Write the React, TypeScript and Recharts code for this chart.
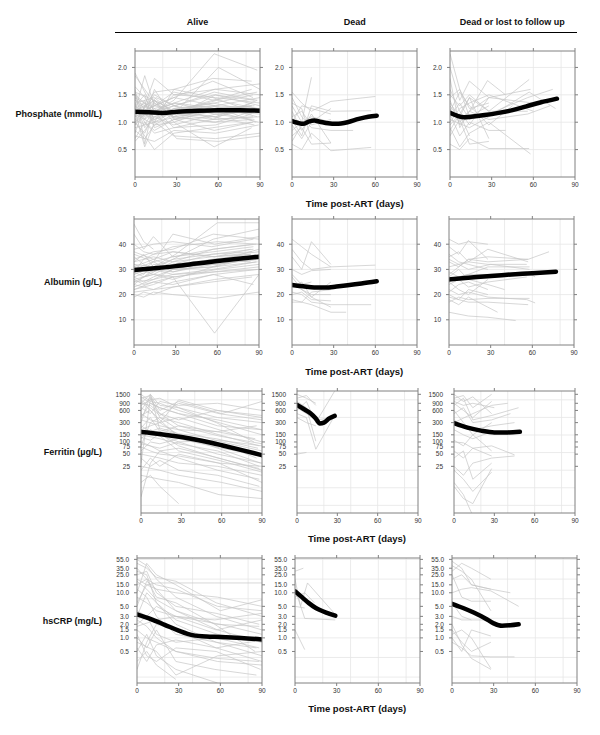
import { CartesianGrid, Line, LineChart, XAxis, YAxis } from 'recharts'

// each patient = flat list of day, value pairs
const phosAlive = [
  [0, 1.9, 14, 1.2, 28, 1.3, 57, 1.5, 86, 1.4],
  [0, 1.85, 7, 1.6, 14, 1.35, 28, 1.1, 56, 1.2, 84, 1.3],
  [0, 1.6, 7, 0.6, 14, 1.4, 28, 1.2, 57, 1.3, 88, 1.1],
  [0, 1.2, 7, 0.55, 14, 1.0, 30, 1.1, 58, 1.0, 85, 1.2],
  [0, 0.8, 14, 1.8, 28, 1.5, 58, 1.6, 90, 1.5],
  [0, 1.0, 14, 0.5, 28, 0.8, 56, 0.9, 84, 1.0],
  [0, 1.4, 7, 1.3, 14, 1.2, 28, 1.4, 57, 2.25, 88, 1.95],
  [0, 1.1, 14, 1.3, 30, 1.2, 60, 2.0, 90, 1.6],
  [0, 1.3, 7, 1.5, 14, 1.0, 28, 1.6, 56, 1.8, 84, 1.75],
  [0, 0.9, 14, 1.0, 28, 0.75, 58, 0.7, 90, 0.8],
  [0, 1.05, 7, 1.2, 15, 1.45, 29, 1.3, 57, 1.55, 88, 1.4],
  [0, 1.5, 7, 1.1, 14, 1.6, 28, 1.05, 56, 1.1, 86, 0.95],
  [0, 1.15, 14, 0.95, 28, 1.0, 57, 0.55, 84, 0.9],
  [0, 0.7, 7, 1.0, 14, 0.8, 28, 0.9, 56, 1.05, 85, 1.1],
  [0, 1.25, 7, 1.35, 14, 1.15, 28, 1.5, 58, 1.45, 90, 1.35],
  [0, 1.45, 14, 1.25, 30, 1.35, 58, 1.25, 86, 1.3],
  [0, 1.0, 7, 1.15, 14, 1.05, 28, 1.25, 57, 1.35, 85, 1.5],
  [0, 0.95, 14, 1.35, 28, 1.1, 56, 1.0, 84, 1.05],
  [0, 1.35, 7, 0.9, 14, 1.1, 28, 0.95, 58, 1.15, 88, 1.2],
  [0, 1.2, 7, 1.85, 14, 1.3, 28, 1.45, 58, 1.3, 90, 1.45],
  [0, 1.55, 14, 1.4, 28, 1.2, 56, 1.4, 84, 1.6],
  [0, 1.1, 14, 1.2, 30, 0.7, 60, 0.65, 90, 0.75],
  [0, 1.3, 7, 1.0, 14, 0.85, 28, 1.05, 57, 1.2, 89, 1.0],
  [0, 0.85, 7, 0.7, 14, 0.95, 28, 1.15, 58, 1.1, 86, 1.25],
  [0, 1.0, 14, 1.55, 28, 1.6, 56, 1.45, 84, 1.2],
  [0, 1.4, 7, 1.25, 14, 1.5, 28, 1.3, 57, 1.05, 90, 1.1],
  [0, 1.2, 14, 1.1, 28, 1.25, 56, 1.3, 87, 1.0],
  [0, 1.05, 7, 0.95, 14, 1.25, 28, 0.9, 58, 0.95, 84, 1.15],
  [0, 1.65, 7, 1.45, 14, 1.2, 28, 1.35, 57, 1.6, 90, 1.7],
  [0, 1.15, 14, 1.3, 28, 1.45, 56, 1.75, 85, 1.45],
  [0, 0.75, 14, 0.65, 28, 0.85, 58, 0.8, 89, 0.95],
  [0, 1.25, 7, 1.05, 14, 1.4, 28, 1.0, 56, 1.25, 84, 1.3],
  [0, 1.5, 7, 1.35, 14, 1.05, 30, 1.2, 59, 1.4, 88, 1.25],
  [0, 0.95, 7, 1.3, 14, 1.15, 28, 1.3, 57, 1.15, 86, 1.05],
  [0, 1.35, 14, 1.45, 28, 1.15, 56, 1.05, 84, 1.35],
  [0, 1.1, 7, 1.4, 14, 0.9, 28, 1.05, 58, 1.3, 90, 1.25],
  [0, 1.55, 7, 1.2, 14, 1.3, 28, 1.55, 57, 1.4, 88, 1.55],
  [0, 0.65, 7, 0.85, 14, 1.1, 28, 1.2, 56, 1.35, 86, 1.2],
  [0, 1.45, 7, 1.05, 14, 1.2, 28, 1.1, 58, 1.5, 90, 1.3],
  [0, 1.2, 7, 1.3, 14, 1.4, 29, 1.05, 57, 0.85, 85, 1.0],
  [0, 1.0, 7, 0.8, 14, 1.2, 28, 1.35, 56, 1.2, 90, 1.15],
  [0, 1.3, 14, 1.0, 28, 1.2, 58, 1.1, 88, 1.4],
]
const phosDead = [
  [0, 1.3, 7, 1.0, 14, 1.82],
  [0, 1.55, 7, 1.35, 14, 1.2, 28, 1.38, 60, 1.47],
  [0, 1.05, 7, 0.75, 14, 1.3, 28, 1.2, 57, 1.21],
  [0, 0.6, 7, 0.5, 14, 0.8, 28, 0.48, 57, 0.54],
  [0, 1.45, 7, 1.1, 14, 0.9, 28, 0.85, 44, 0.85],
  [0, 0.95, 7, 0.7, 14, 1.0, 28, 1.25],
  [0, 1.2, 7, 0.85, 14, 1.15, 28, 0.62],
  [0, 0.75, 7, 0.9, 14, 0.6, 28, 0.62],
  [0, 1.1, 7, 1.2, 14, 0.95, 28, 1.05],
  [0, 0.85, 7, 1.0, 14, 1.1, 28, 1.0],
  [0, 1.35, 7, 1.25, 14, 0.7],
  [0, 0.65, 7, 0.95],
  [0, 1.0, 7, 1.3, 14, 1.25, 28, 1.15],
]
const phosLost = [
  [0, 2.25, 7, 1.6, 14, 1.1, 28, 1.3],
  [0, 2.0, 7, 1.4, 14, 1.75, 28, 1.45],
  [0, 1.8, 7, 0.9, 14, 1.2, 27, 1.76, 40, 1.5],
  [0, 1.5, 7, 1.3, 14, 1.5, 28, 1.2, 57, 1.78],
  [0, 1.25, 7, 1.0, 14, 1.2, 28, 1.45, 58, 1.6],
  [0, 1.05, 14, 0.9, 28, 1.1, 57, 1.55, 76, 1.25],
  [0, 1.15, 7, 0.75, 14, 1.0, 28, 0.85, 40, 0.85],
  [0, 0.9, 7, 0.55, 14, 0.8, 28, 1.0, 58, 0.42],
  [0, 0.6, 7, 0.5, 14, 0.7, 28, 0.52, 57, 0.52],
  [0, 1.35, 7, 1.1, 14, 1.45, 28, 1.2, 56, 1.2],
  [0, 1.0, 7, 1.25, 14, 1.35, 28, 1.5, 60, 1.2],
  [0, 1.4, 7, 0.95, 14, 1.15],
  [0, 0.75, 7, 1.05, 14, 0.6, 28, 0.65],
  [0, 1.2, 7, 1.55, 14, 1.3, 28, 0.95, 45, 1.3],
  [0, 1.6, 7, 1.2, 14, 0.95, 28, 1.45, 60, 1.35],
  [0, 1.1, 7, 1.35, 14, 1.05, 28, 1.15, 56, 1.45, 74, 1.6],
  [0, 0.95, 7, 1.15, 14, 0.75],
  [0, 1.3, 7, 1.05, 14, 1.2, 28, 1.05, 56, 1.15, 72, 1.3],
  [0, 0.85, 14, 1.45, 28, 0.7],
  [0, 1.45, 7, 1.6, 14, 1.25, 28, 1.35],
]

const albAlive = [
  [0, 48, 7, 41, 14, 38],
  [0, 44, 7, 38, 14, 43, 28, 35, 57, 38, 88, 40],
  [0, 36, 14, 33, 28, 44, 58, 40, 90, 43],
  [0, 28, 14, 31, 30, 36, 60, 48.5, 90, 48.5],
  [0, 22, 14, 24, 28, 27, 58, 4.7, 90, 28],
  [0, 20, 7, 19, 14, 21, 28, 20, 58, 18.5, 90, 21],
  [0, 25, 14, 26, 28, 28, 57, 30, 88, 33],
  [0, 30, 7, 28, 14, 32, 28, 31, 56, 34, 84, 36],
  [0, 33, 14, 35, 28, 33, 57, 38, 86, 40],
  [0, 27, 7, 25, 14, 27, 28, 30, 58, 33, 90, 38],
  [0, 31, 14, 28, 28, 32, 56, 36, 85, 37],
  [0, 35, 7, 32, 14, 30, 28, 34, 57, 42, 90, 46],
  [0, 24, 14, 22, 28, 25, 58, 28, 89, 30],
  [0, 29, 7, 34, 14, 36, 28, 37, 58, 35, 84, 38],
  [0, 26, 14, 28, 30, 27, 60, 30, 90, 32],
  [0, 38, 14, 40, 28, 41, 56, 39, 86, 42],
  [0, 32, 7, 30, 14, 33, 28, 29, 57, 33, 87, 34],
  [0, 21, 14, 22, 28, 23, 58, 26, 90, 28],
  [0, 34, 14, 37, 28, 38, 57, 44, 90, 42],
  [0, 28, 7, 30, 14, 29, 28, 33, 56, 35, 84, 36],
  [0, 23, 14, 26, 28, 30, 58, 31, 88, 35],
  [0, 30, 14, 33, 28, 35, 57, 37, 86, 39],
  [0, 19, 7, 21, 14, 20, 28, 23, 56, 25, 85, 27],
  [0, 37, 14, 34, 28, 31, 58, 32, 90, 34],
  [0, 27, 14, 30, 28, 28, 57, 29, 90, 31],
  [0, 40, 7, 37, 14, 36, 28, 39, 60, 41, 90, 40],
  [0, 25, 14, 29, 28, 32, 58, 34, 84, 33],
  [0, 33, 7, 36, 14, 31, 28, 30, 56, 31, 88, 36],
  [0, 22, 14, 25, 28, 24, 57, 28, 86, 24],
  [0, 31, 14, 34, 28, 37, 58, 35, 90, 37],
  [0, 29, 7, 27, 14, 30, 28, 29, 57, 32, 88, 34],
  [0, 26, 7, 24, 14, 25, 28, 27, 58, 29, 90, 30],
  [0, 32, 14, 31, 28, 34, 56, 36, 86, 38],
  [0, 24, 7, 27, 14, 28, 28, 26, 57, 31, 89, 33],
]
const albDead = [
  [0, 42, 7, 39, 14, 36, 28, 31, 60, 31.7],
  [0, 35, 7, 30, 14, 41, 28, 32],
  [0, 38, 7, 33, 14, 30, 28, 31],
  [0, 28, 7, 24, 14, 25],
  [0, 27, 7, 22, 14, 19, 28, 25],
  [0, 21, 7, 20, 14, 17, 28, 16, 57, 16],
  [0, 18, 7, 17, 14, 16, 28, 13, 39, 13],
  [0, 24, 14, 20, 28, 20],
  [0, 20, 7, 21, 14, 18, 28, 17.5],
  [0, 17, 7, 17, 14, 21, 28, 22],
  [0, 30, 7, 28, 14, 29.5, 28, 30],
  [0, 23, 7, 25, 14, 19, 28, 15],
]
const albLost = [
  [0, 42, 7, 40, 14, 41, 28, 40],
  [0, 39, 7, 36, 14, 41.5, 28, 34],
  [0, 35, 7, 37, 14, 33, 28, 38, 57, 33],
  [0, 33, 7, 31, 14, 34, 28, 33, 57, 34, 72, 37],
  [0, 31, 14, 33, 28, 32, 56, 32],
  [0, 29, 7, 27, 14, 28, 28, 31, 58, 31],
  [0, 27, 7, 30, 14, 26, 28, 24, 40, 22],
  [0, 25, 7, 22, 14, 20, 28, 26],
  [0, 22, 7, 20, 14, 21, 28, 19, 56, 18, 62, 16.7],
  [0, 20, 7, 18, 14, 22, 28, 20],
  [0, 19, 14, 17, 28, 17, 57, 16],
  [0, 18, 7, 16, 14, 19, 28, 15, 35, 13],
  [0, 13, 14, 11.5, 28, 11, 48, 9.7],
  [0, 24, 7, 26, 14, 23, 28, 25, 56, 27],
  [0, 36, 7, 33, 14, 32, 28, 30],
  [0, 21, 7, 24, 14, 25, 28, 22],
  [0, 28, 14, 34, 28, 35, 57, 34],
  [0, 34, 7, 32, 14, 30, 30, 32, 58, 30],
  [0, 17, 7, 19, 14, 18, 28, 18.5, 58, 18.5],
  [0, 26, 14, 28, 28, 28, 56, 29, 62, 27],
]

const ferAlive = [
  [0, 900, 7, 1500, 14, 800, 28, 700, 57, 400, 90, 300],
  [0, 1200, 7, 1400, 14, 600, 28, 1000, 60, 500, 90, 1000],
  [0, 600, 7, 1300, 14, 400, 28, 300, 58, 150, 88, 80],
  [0, 400, 7, 900, 14, 700, 28, 500, 57, 250, 90, 200],
  [0, 300, 7, 1500, 14, 200, 28, 150, 56, 100, 86, 40],
  [0, 1500, 7, 1000, 14, 900, 28, 600, 58, 300, 90, 150],
  [0, 200, 7, 250, 14, 300, 28, 1100, 57, 600, 90, 400],
  [0, 150, 14, 120, 28, 90, 57, 60, 88, 25],
  [0, 100, 7, 80, 14, 60, 28, 70, 58, 40, 90, 20],
  [0, 80, 7, 300, 14, 400, 28, 200, 60, 100, 90, 60],
  [0, 50, 14, 40, 28, 30, 57, 25, 90, 15],
  [0, 30, 7, 1200, 14, 500, 28, 250, 56, 180, 85, 120],
  [0, 20, 7, 40, 14, 25, 28, 50, 58, 30, 90, 10],
  [0, 10, 7, 15, 14, 8, 28, 3],
  [0, 4.4, 7, 30, 14, 60, 28, 40, 57, 20, 88, 12],
  [0, 700, 7, 500, 14, 1000, 28, 800, 57, 900, 90, 600],
  [0, 250, 7, 180, 14, 220, 28, 160, 56, 120, 87, 70],
  [0, 500, 7, 350, 14, 300, 28, 400, 58, 200, 90, 100],
  [0, 120, 7, 200, 14, 150, 28, 100, 57, 50, 90, 30],
  [0, 60, 7, 100, 14, 90, 28, 120, 60, 70, 90, 45],
  [0, 40, 7, 25, 14, 35, 28, 20, 57, 15, 88, 8],
  [0, 180, 14, 140, 28, 60, 58, 35, 90, 18],
  [0, 900, 7, 800, 14, 500, 28, 350, 56, 600, 90, 450],
  [0, 350, 14, 250, 28, 200, 57, 180, 86, 250],
  [0, 75, 7, 60, 14, 50, 28, 45, 58, 30, 90, 25],
  [0, 1000, 7, 600, 14, 300, 28, 150, 57, 70, 89, 30],
  [0, 25, 14, 20, 28, 15, 60, 10, 90, 6],
  [0, 800, 7, 1100, 14, 1200, 28, 700, 56, 300, 84, 100],
  [0, 220, 7, 400, 14, 180, 28, 250, 58, 140, 90, 90],
  [0, 15, 14, 12, 28, 10, 58, 5, 90, 4],
  [0, 1300, 7, 900, 14, 700, 28, 500, 57, 350, 90, 200],
  [0, 450, 7, 600, 14, 350, 28, 130, 60, 80, 90, 50],
  [0, 90, 14, 70, 28, 100, 58, 110, 90, 80],
  [0, 1100, 7, 700, 14, 450, 28, 900, 58, 500, 90, 350],
  [0, 130, 7, 110, 14, 160, 28, 80, 57, 40, 88, 22],
]
const ferDead = [
  [0, 1200, 7, 1400, 14, 800],
  [0, 600, 7, 1000, 14, 300, 28, 1800],
  [0, 1000, 7, 700, 14, 104],
  [0, 500, 7, 400, 14, 66, 28, 450],
  [0, 700, 7, 500, 14, 350, 28, 400],
  [0, 400, 7, 300, 14, 250],
  [0, 50, 7, 55],
  [0, 1500, 7, 1200, 14, 900],
]
const ferLost = [
  [0, 1500, 7, 1000, 14, 1300, 28, 500],
  [0, 1200, 7, 1400, 14, 700, 28, 1500],
  [0, 900, 7, 600, 14, 400, 28, 1000],
  [0, 800, 7, 1200, 14, 350, 28, 450, 48, 700],
  [0, 500, 7, 700, 14, 300, 28, 350, 42, 500],
  [0, 600, 7, 300, 14, 150, 28, 300],
  [0, 350, 7, 250, 14, 200, 28, 250, 45, 300],
  [0, 200, 7, 150, 14, 120, 28, 180],
  [0, 100, 7, 95, 14, 70, 28, 80, 45, 48],
  [0, 110, 7, 80, 14, 150, 28, 60],
  [0, 60, 7, 40, 14, 70, 28, 45],
  [0, 25, 7, 15, 14, 30, 28, 40, 45, 45],
  [0, 40, 7, 60, 14, 12, 28, 30],
  [0, 10, 7, 5, 14, 1.5],
  [0, 20, 7, 12, 14, 6, 28, 18],
  [0, 8, 7, 4, 14, 3, 28, 22],
  [0, 1000, 7, 800, 14, 900, 30, 700],
  [0, 300, 14, 500, 28, 800, 40, 900],
]

const crpAlive = [
  [0, 55, 7, 40, 14, 20, 28, 8, 57, 3, 90, 1.5],
  [0, 35, 7, 20, 14, 15, 28, 12, 58, 5, 90, 4],
  [0, 25, 7, 30, 14, 10, 28, 5, 57, 3.5, 88, 2],
  [0, 15, 7, 20, 14, 8, 28, 6, 56, 2, 85, 0.5],
  [0, 10, 7, 45, 14, 25, 28, 15, 60, 4, 90, 7],
  [0, 5, 7, 18, 14, 12, 28, 4, 58, 1.5, 90, 0.8],
  [0, 3, 7, 10, 14, 6, 28, 2, 57, 0.8, 90, 0.4],
  [0, 1.5, 7, 1.0, 14, 0.8, 28, 0.5, 58, 0.3, 90, 0.25],
  [0, 1.0, 7, 0.6, 14, 1.5, 28, 0.3, 56, 0.2, 86, 0.15],
  [0, 0.2, 7, 0.8, 14, 2.0, 28, 1.5, 57, 0.6, 90, 0.3],
  [0, 0.5, 7, 1.2, 14, 0.4, 28, 0.2, 58, 0.1],
  [0, 2.0, 7, 3.0, 14, 1.2, 28, 0.8, 57, 1.0, 88, 0.6],
  [0, 8, 7, 6, 14, 4, 28, 3, 56, 2.5, 90, 3.5],
  [0, 20, 7, 15, 14, 12, 28, 10, 58, 8, 90, 5],
  [0, 1.2, 7, 0.4, 14, 0.3, 28, 0.6, 57, 0.5, 89, 0.2],
  [0, 0.8, 14, 0.5, 28, 0.15, 58, 0.4, 90, 0.5],
  [0, 4, 7, 3, 14, 5, 28, 3, 60, 2, 90, 1.2],
  [0, 12, 7, 8, 14, 3, 28, 1.2, 57, 0.8, 86, 0.6],
  [0, 30, 7, 25, 14, 6, 28, 2.5, 58, 1.2, 90, 0.8],
  [0, 6, 7, 15, 14, 16.5, 28, 16.5, 56, 16.5, 90, 16.5],
  [0, 0.6, 7, 0.3, 14, 0.7, 28, 0.9, 57, 0.6, 90, 0.9],
  [0, 2.5, 7, 1.8, 14, 1.0, 28, 0.5, 58, 0.35, 88, 0.3],
  [0, 1.8, 14, 2.5, 28, 3.0, 57, 1.5, 90, 2.5],
  [0, 0.3, 7, 0.5, 14, 0.25, 28, 0.12],
  [0, 45, 7, 35, 14, 22, 28, 18, 57, 6, 90, 3],
  [0, 18, 7, 12, 14, 7, 28, 4, 57, 2, 88, 1.8],
]
const crpDead = [
  [0, 30, 6, 35],
  [0, 20, 4, 5, 9, 16.5, 28, 3.6],
  [0, 12, 7, 2.7, 29, 2.5],
  [0, 1.5, 7, 0.55],
  [0, 5, 7, 4.6],
  [0, 8, 7, 10, 14, 6],
]
const crpLost = [
  [0, 30, 7, 45, 14, 35, 28, 20],
  [0, 40, 7, 30, 14, 20, 28, 4],
  [0, 20, 7, 25, 14, 15, 28, 12, 42, 10],
  [0, 10, 7, 12, 14, 13, 28, 11, 48, 5],
  [0, 25, 7, 8, 14, 6.5, 28, 6.5],
  [0, 3, 7, 2.5, 14, 2.5, 28, 2.5],
  [0, 1.5, 7, 0.8, 14, 0.5, 28, 0.8],
  [0, 1.2, 7, 1.5, 14, 1.0, 28, 0.21],
  [0, 2, 7, 0.7, 14, 0.35, 28, 0.2],
  [0, 1.0, 7, 0.5, 14, 1.5, 28, 1.1],
  [0, 0.8, 7, 0.6, 14, 0.4, 28, 0.38, 45, 0.38],
  [0, 50, 7, 35, 14, 15, 28, 12],
  [0, 6, 7, 3, 14, 2.5],
]

// loess-style group curves
const phosAliveFit = [0, 1.19, 10, 1.18, 20, 1.17, 30, 1.19, 45, 1.21, 60, 1.22, 75, 1.22, 90, 1.21]
const phosDeadFit = [0, 1.02, 4, 0.99, 8, 0.97, 12, 1.01, 16, 1.03, 20, 1.01, 26, 0.98, 32, 0.97, 40, 1.0, 48, 1.06, 55, 1.1, 61, 1.12]
const phosLostFit = [0, 1.17, 5, 1.12, 10, 1.09, 15, 1.1, 25, 1.13, 35, 1.17, 45, 1.22, 55, 1.29, 65, 1.36, 77, 1.43]
const albAliveFit = [0, 29.8, 15, 30.5, 30, 31.3, 45, 32.3, 60, 33.3, 75, 34.2, 90, 35.0]
const albDeadFit = [0, 23.8, 8, 23.3, 16, 22.8, 24, 22.8, 32, 23.2, 40, 23.7, 50, 24.4, 61, 25.3]
const albLostFit = [0, 26, 20, 27, 40, 27.8, 60, 28.5, 77, 29.1]
const ferAliveFit = [0, 175, 15, 155, 30, 132, 45, 107, 60, 83, 75, 63, 90, 47]
const ferDeadFit = [0, 820, 5, 650, 10, 510, 14, 380, 17, 285, 20, 300, 24, 380, 28, 440]
const ferLostFit = [0, 290, 10, 225, 20, 190, 30, 172, 40, 172, 49, 178]
const crpAliveFit = [0, 3.3, 10, 2.6, 20, 1.95, 30, 1.45, 40, 1.15, 50, 1.07, 60, 1.05, 75, 1.0, 90, 0.92]
const crpDeadFit = [0, 10.8, 5, 8, 10, 5.9, 15, 4.6, 20, 3.9, 25, 3.4, 29, 3.1]
const crpLostFit = [0, 5.7, 8, 4.6, 16, 3.6, 24, 2.7, 30, 2.1, 36, 1.85, 42, 1.9, 48, 2.0]

const groups = ['Alive', 'Dead', 'Dead or lost to follow up']
const xTicks = [0, 30, 60, 90]
const xGrid = [20, 40, 60, 80]
const phosTicks = [0.5, 1, 1.5, 2]
const albTicks = [10, 20, 30, 40]
const ferTicks = [25, 50, 75, 100, 150, 300, 600, 900, 1500]
const crpTicks = [0.5, 1, 1.5, 2, 3, 5, 10, 15, 25, 35, 55]

const FONT = '"Liberation Sans", Arial, Helvetica, sans-serif'
const FRAME = '#808080'
const SPAG = '#c6c6c6'

const toPts = (a: number[]) => {
  const out: { t: number; v: number }[] = []
  for (let i = 0; i < a.length; i += 2) out.push({ t: a[i], v: a[i + 1] })
  return out
}

// ln-spaced grid like lattice on log data
const lnGrid = (from: number, to: number) => {
  const g: number[] = []
  for (let k = from; k <= to; k++) g.push(Math.exp(k))
  return g
}

const blank = () => ''

interface AxisSpec {
  log: boolean
  domain: [number, number]
  ticks: number[]
  grid: number[]
  fmt: (v: number) => string
  gap: number
}

const rows = [
  {
    label: 'Phosphate (mmol/L)', top: 51, h: 126, w: 125, xs: [135, 292.3, 449.7], titleY: 203,
    axis: { log: false, domain: [0, 2.3], ticks: phosTicks, grid: phosTicks, fmt: (v: number) => v.toFixed(1), gap: 5 } as AxisSpec,
    lines: [phosAlive, phosDead, phosLost], fits: [phosAliveFit, phosDeadFit, phosLostFit],
  },
  {
    label: 'Albumin (g/L)', top: 219, h: 126, w: 125, xs: [134.3, 291.7, 449.3], titleY: 371,
    axis: { log: false, domain: [0, 50], ticks: albTicks, grid: albTicks, fmt: (v: number) => String(v), gap: 5 } as AxisSpec,
    lines: [albAlive, albDead, albLost], fits: [albAliveFit, albDeadFit, albLostFit],
  },
  {
    label: 'Ferritin (µg/L)', top: 390.7, h: 122, w: 121, xs: [141, 296.5, 453.5], titleY: 538,
    axis: { log: true, domain: [1.76, 1810], ticks: ferTicks, grid: lnGrid(1, 7), fmt: (v: number) => String(v), gap: 8 } as AxisSpec,
    lines: [ferAlive, ferDead, ferLost], fits: [ferAliveFit, ferDeadFit, ferLostFit],
  },
  {
    label: 'hsCRP (mg/L)', top: 558.3, h: 125, w: 125, xs: [137, 294.7, 451.7], titleY: 708,
    axis: { log: true, domain: [0.1, 59], ticks: crpTicks, grid: lnGrid(-2, 4), fmt: (v: number) => v.toFixed(1), gap: 5 } as AxisSpec,
    lines: [crpAlive, crpDead, crpLost], fits: [crpAliveFit, crpDeadFit, crpLostFit],
  },
]

const L = 40
const R = 8
const T = 8
const B = 20

function Panel({ x, y, w, h, axis, lines, fit }: { x: number; y: number; w: number; h: number; axis: AxisSpec; lines: number[][]; fit: number[] }) {
  const tickStyle = { fontSize: 6.5, fill: '#333', fontFamily: FONT }
  const yScale = axis.log ? 'log' : 'linear'
  return (
    <div style={{ position: 'absolute', left: x - L, top: y - T }}>
      <LineChart width={w + L + R} height={h + T + B} margin={{ top: 0, right: 0, bottom: 0, left: 0 }}>
        <CartesianGrid stroke="#e6e6e6" strokeWidth={0.8} verticalValues={xGrid} horizontalValues={axis.grid} />
        <XAxis type="number" dataKey="t" domain={[0, 90]} ticks={xTicks} allowDataOverflow height={B}
          stroke={FRAME} tickSize={3} tickMargin={2} tick={tickStyle} interval={0} />
        <XAxis xAxisId="top" orientation="top" type="number" dataKey="t" domain={[0, 90]} ticks={xTicks}
          allowDataOverflow height={T} stroke={FRAME} tickSize={3} tick={{ fontSize: 1 }} tickFormatter={blank} interval={0} />
        <YAxis type="number" scale={yScale} domain={axis.domain} ticks={axis.ticks} allowDataOverflow width={L}
          stroke={FRAME} tickSize={3} tickMargin={axis.gap} tick={tickStyle} tickFormatter={axis.fmt} interval={0} />
        <YAxis yAxisId="r" orientation="right" type="number" scale={yScale} domain={axis.domain} ticks={axis.ticks}
          allowDataOverflow width={R} stroke={FRAME} tickSize={3} tick={{ fontSize: 1 }} tickFormatter={blank} interval={0} />
        {lines.map((p, i) => (
          <Line key={i} data={toPts(p)} dataKey="v" type="linear" stroke={SPAG} strokeWidth={0.7}
            dot={false} activeDot={false} isAnimationActive={false} />
        ))}
        <Line data={toPts(fit)} dataKey="v" type="monotone" stroke="#000" strokeWidth={4.5}
          strokeLinecap="round" dot={false} activeDot={false} isAnimationActive={false} />
      </LineChart>
    </div>
  )
}

export default function App() {
  return (
    <div style={{ position: 'absolute', left: 0, top: 0, width: 600, height: 735, background: '#fff', fontFamily: FONT }}>
      {rows.map((r, ri) =>
        r.xs.map((x, ci) => (
          <Panel key={`${ri}-${ci}`} x={x} y={r.top} w={r.w} h={r.h} axis={r.axis} lines={r.lines[ci]} fit={r.fits[ci]} />
        ))
      )}
      <svg width={600} height={735} style={{ position: 'absolute', left: 0, top: 0, pointerEvents: 'none' }}>
        {groups.map((g, i) => (
          <text key={g} x={rows[0].xs[i] + rows[0].w / 2} y={25} textAnchor="middle" fontSize={9} fontWeight="bold" fontFamily={FONT} fill="#111">
            {g}
          </text>
        ))}
        <line x1={115} x2={577} y1={32.5} y2={32.5} stroke="#000" strokeWidth={1.2} />
        {rows.map((r) => (
          <g key={r.label}>
            <text x={102} y={r.top + r.h / 2 + 3} textAnchor="end" fontSize={9} fontWeight="bold" fontFamily={FONT} fill="#111">
              {r.label}
            </text>
            <text x={r.xs[1] + r.w / 2} y={r.titleY + 3.5} textAnchor="middle" fontSize={9.5} fontWeight="bold" fontFamily={FONT} fill="#111">
              Time post-ART (days)
            </text>
          </g>
        ))}
      </svg>
    </div>
  )
}
